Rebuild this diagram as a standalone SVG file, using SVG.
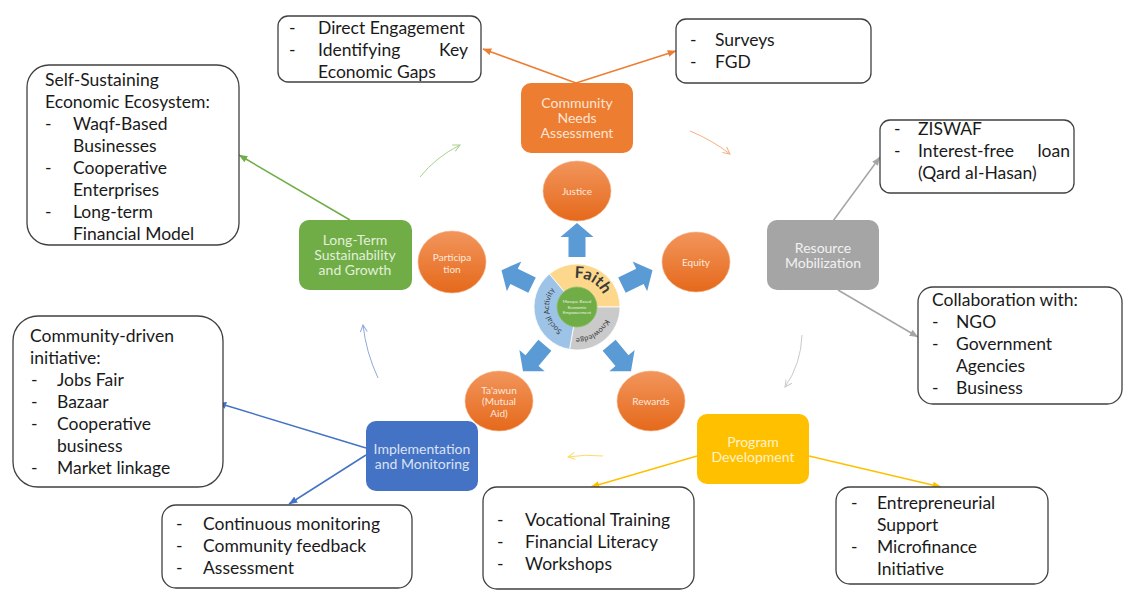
<svg xmlns="http://www.w3.org/2000/svg" width="1123" height="591" viewBox="0 0 1123 591">
  <defs>
    <style>
      .box { fill: #ffffff; stroke: #404040; stroke-width: 1.3; }
      .t { font-family: Lato, "Liberation Sans", sans-serif; font-size: 17.5px; fill: #1a1a1a; }
      .stage { font-family: Lato, "Liberation Sans", sans-serif; font-size: 14px; text-anchor: middle; }
      .orb { fill: url(#orbFill); stroke: #f6b48a; stroke-width: 0.6; }
      .orbt { font-family: Lato, "Liberation Sans", sans-serif; font-size: 10px; fill: #fde9dc; text-anchor: middle; }
      .spoke { fill: #5b9bd5; }
      .link { fill: none; stroke-width: 1.5; }
      .cycle { fill: none; stroke-width: 1; }
      .ring { font-family: Lato, "Liberation Sans", sans-serif; fill: #3a3a3a; }
    </style>
    <linearGradient id="orbFill" x1="0" y1="0" x2="0" y2="1">
      <stop offset="0" stop-color="#f2955c"/>
      <stop offset="1" stop-color="#e5691b"/>
    </linearGradient>
    <marker id="ahOrange" viewBox="0 0 10 8" refX="9.5" refY="4" markerWidth="9" markerHeight="7" markerUnits="userSpaceOnUse" orient="auto"><path d="M0,0 L10,4 L0,8 z" fill="#ed7d31"/></marker>
    <marker id="ahGray" viewBox="0 0 10 8" refX="9.5" refY="4" markerWidth="9" markerHeight="7" markerUnits="userSpaceOnUse" orient="auto"><path d="M0,0 L10,4 L0,8 z" fill="#a5a5a5"/></marker>
    <marker id="ahYellow" viewBox="0 0 10 8" refX="9.5" refY="4" markerWidth="9" markerHeight="7" markerUnits="userSpaceOnUse" orient="auto"><path d="M0,0 L10,4 L0,8 z" fill="#ffc000"/></marker>
    <marker id="ahBlue" viewBox="0 0 10 8" refX="9.5" refY="4" markerWidth="9" markerHeight="7" markerUnits="userSpaceOnUse" orient="auto"><path d="M0,0 L10,4 L0,8 z" fill="#4472c4"/></marker>
    <marker id="ahGreen" viewBox="0 0 10 8" refX="9.5" refY="4" markerWidth="9" markerHeight="7" markerUnits="userSpaceOnUse" orient="auto"><path d="M0,0 L10,4 L0,8 z" fill="#70ad47"/></marker>
    <marker id="ohGreen" viewBox="0 0 8 8" refX="7" refY="4" markerWidth="8" markerHeight="8" markerUnits="userSpaceOnUse" orient="auto"><path d="M0,0.5 L7,4 L0,7.5" fill="none" stroke="#a9d18e" stroke-width="1"/></marker>
    <marker id="ohOrange" viewBox="0 0 8 8" refX="7" refY="4" markerWidth="8" markerHeight="8" markerUnits="userSpaceOnUse" orient="auto"><path d="M0,0.5 L7,4 L0,7.5" fill="none" stroke="#f4b183" stroke-width="1"/></marker>
    <marker id="ohGray" viewBox="0 0 8 8" refX="7" refY="4" markerWidth="8" markerHeight="8" markerUnits="userSpaceOnUse" orient="auto"><path d="M0,0.5 L7,4 L0,7.5" fill="none" stroke="#c9c9c9" stroke-width="1"/></marker>
    <marker id="ohYellow" viewBox="0 0 8 8" refX="7" refY="4" markerWidth="8" markerHeight="8" markerUnits="userSpaceOnUse" orient="auto"><path d="M0,0.5 L7,4 L0,7.5" fill="none" stroke="#ffd966" stroke-width="1"/></marker>
    <marker id="ohBlue" viewBox="0 0 8 8" refX="7" refY="4" markerWidth="8" markerHeight="8" markerUnits="userSpaceOnUse" orient="auto"><path d="M0,0.5 L7,4 L0,7.5" fill="none" stroke="#8faadc" stroke-width="1"/></marker>
    <!-- baselines for the curved ring labels -->
    <path id="arcFaith" d="M569.5,279.0 A29,29 0 0 1 605.0,299.5"/>
    <path id="arcKnowledge" d="M606.9,315.0 A31,31 0 0 1 571.6,337.5"/>
    <path id="arcSocial" d="M567.4,333.3 A28,28 0 0 1 559.0,285.6"/>
    <polygon id="spokeShape" points="50,-8.5 70,-8.5 70,-16.5 84,0 70,16.5 70,8.5 50,8.5"/>
  </defs>

  <rect width="1123" height="591" fill="#ffffff"/>

  <!-- connectors -->
  <g id="connectors">
    <line class="link" x1="576" y1="83" x2="483" y2="49" stroke="#ed7d31" stroke-width="1" marker-end="url(#ahOrange)"/>
    <line class="link" x1="576" y1="83" x2="676" y2="51" stroke="#ed7d31" stroke-width="1" marker-end="url(#ahOrange)"/>
    <line class="link" x1="833" y1="221" x2="880" y2="157" stroke="#a5a5a5" marker-end="url(#ahGray)"/>
    <line class="link" x1="838" y1="290" x2="918" y2="337" stroke="#a5a5a5" marker-end="url(#ahGray)"/>
    <line class="link" x1="697" y1="456" x2="591" y2="487" stroke="#ffc000" marker-end="url(#ahYellow)"/>
    <line class="link" x1="809" y1="456" x2="941" y2="487" stroke="#ffc000" marker-end="url(#ahYellow)"/>
    <line class="link" x1="366" y1="448" x2="218" y2="403" stroke="#4472c4" marker-end="url(#ahBlue)"/>
    <line class="link" x1="366" y1="455" x2="289" y2="504" stroke="#4472c4" marker-end="url(#ahBlue)"/>
    <line class="link" x1="350" y1="220" x2="239" y2="155" stroke="#70ad47" marker-end="url(#ahGreen)"/>
    <!-- faint cycle arrows between stages -->
    <path class="cycle" d="M420,177 Q436,157 460,145" stroke="#a9d18e" marker-end="url(#ohGreen)"/>
    <path class="cycle" d="M690,131 Q712,140 730,154" stroke="#f4b183" marker-end="url(#ohOrange)"/>
    <path class="cycle" d="M802,335 Q801,364 785,387" stroke="#c9c9c9" marker-end="url(#ohGray)"/>
    <path class="cycle" d="M603,456 Q585,454 568,457" stroke="#ffd966" marker-end="url(#ohYellow)"/>
    <path class="cycle" d="M378,378 Q366,352 363,325" stroke="#8faadc" marker-end="url(#ohBlue)"/>
  </g>

  <!-- stage boxes -->
  <g id="needs">
    <rect x="521" y="83" width="112" height="70" rx="10" fill="#ed7d31"/>
    <text class="stage" fill="#fde4d3"><tspan x="577" y="107.5">Community</tspan><tspan x="577" y="122.5">Needs</tspan><tspan x="577" y="137.5">Assessment</tspan></text>
  </g>
  <g id="resources">
    <rect x="767" y="220" width="112" height="70" rx="10" fill="#a5a5a5"/>
    <text class="stage" fill="#f2f2f2"><tspan x="823" y="252.5">Resource</tspan><tspan x="823" y="267.5">Mobilization</tspan></text>
  </g>
  <g id="program">
    <rect x="697" y="414" width="112" height="70" rx="10" fill="#ffc000"/>
    <text class="stage" fill="#fff2cc"><tspan x="753" y="446.5">Program</tspan><tspan x="753" y="461.5">Development</tspan></text>
  </g>
  <g id="implementation">
    <rect x="366" y="421" width="112" height="70" rx="10" fill="#4472c4"/>
    <text class="stage" fill="#dae3f3"><tspan x="422" y="453.5">Implementation</tspan><tspan x="422" y="468.5">and Monitoring</tspan></text>
  </g>
  <g id="sustainability">
    <rect x="299" y="220" width="113" height="70" rx="10" fill="#70ad47"/>
    <text class="stage" fill="#e2f0d9"><tspan x="355" y="244.5">Long-Term</tspan><tspan x="355" y="259.5">Sustainability</tspan><tspan x="355" y="274.5">and Growth</tspan></text>
  </g>

  <!-- detail boxes -->
  <g id="engagement">
    <rect class="box" x="278" y="16" width="203" height="66" rx="10"/>
    <text class="t"><tspan x="289" y="34">-</tspan><tspan x="318" y="34">Direct Engagement</tspan><tspan x="289" y="56">-</tspan><tspan x="318" y="56">Identifying</tspan><tspan x="318" y="78">Economic Gaps</tspan></text>
    <text class="t" x="468" y="56" text-anchor="end">Key</text>
  </g>
  <g id="surveys">
    <rect class="box" x="676" y="19" width="195" height="64" rx="10"/>
    <text class="t"><tspan x="690" y="46">-</tspan><tspan x="715" y="46">Surveys</tspan><tspan x="690" y="68">-</tspan><tspan x="715" y="68">FGD</tspan></text>
  </g>
  <g id="funding">
    <rect class="box" x="880" y="120" width="194" height="73" rx="10"/>
    <text class="t"><tspan x="894" y="135">-</tspan><tspan x="918" y="135">ZISWAF</tspan><tspan x="894" y="157">-</tspan><tspan x="918" y="157">Interest-free</tspan><tspan x="918" y="179">(Qard al-Hasan)</tspan></text>
    <text class="t" x="1070" y="157" text-anchor="end">loan</text>
  </g>
  <g id="collaboration">
    <rect class="box" x="918" y="287" width="204" height="117" rx="15"/>
    <text class="t"><tspan x="932" y="306">Collaboration with:</tspan><tspan x="932" y="328">-</tspan><tspan x="956" y="328">NGO</tspan><tspan x="932" y="350">-</tspan><tspan x="956" y="350">Government</tspan><tspan x="956" y="372">Agencies</tspan><tspan x="932" y="394">-</tspan><tspan x="956" y="394">Business</tspan></text>
  </g>
  <g id="ecosystem">
    <rect class="box" x="27" y="65" width="212" height="180" rx="22"/>
    <text class="t"><tspan x="45" y="85.5">Self-Sustaining</tspan><tspan x="45" y="107.5">Economic Ecosystem:</tspan><tspan x="45" y="129.5">-</tspan><tspan x="73" y="129.5">Waqf-Based</tspan><tspan x="73" y="151.5">Businesses</tspan><tspan x="45" y="173.5">-</tspan><tspan x="73" y="173.5">Cooperative</tspan><tspan x="73" y="195.5">Enterprises</tspan><tspan x="45" y="217.5">-</tspan><tspan x="73" y="217.5">Long-term</tspan><tspan x="73" y="239.5">Financial Model</tspan></text>
  </g>
  <g id="initiatives">
    <rect class="box" x="13" y="316" width="210" height="171" rx="25"/>
    <text class="t"><tspan x="30" y="341.5">Community-driven</tspan><tspan x="30" y="363.5">initiative:</tspan><tspan x="31" y="385.5">-</tspan><tspan x="57" y="385.5">Jobs Fair</tspan><tspan x="31" y="407.5">-</tspan><tspan x="57" y="407.5">Bazaar</tspan><tspan x="31" y="429.5">-</tspan><tspan x="57" y="429.5">Cooperative</tspan><tspan x="57" y="451.5">business</tspan><tspan x="31" y="473.5">-</tspan><tspan x="57" y="473.5">Market linkage</tspan></text>
  </g>
  <g id="monitoring">
    <rect class="box" x="162" y="505" width="250" height="83" rx="14"/>
    <text class="t"><tspan x="176" y="530">-</tspan><tspan x="203" y="530">Continuous monitoring</tspan><tspan x="176" y="552">-</tspan><tspan x="203" y="552">Community feedback</tspan><tspan x="176" y="574">-</tspan><tspan x="203" y="574">Assessment</tspan></text>
  </g>
  <g id="training">
    <rect class="box" x="483" y="487" width="211" height="102" rx="14"/>
    <text class="t"><tspan x="497" y="526">-</tspan><tspan x="525" y="526">Vocational Training</tspan><tspan x="497" y="548">-</tspan><tspan x="525" y="548">Financial Literacy</tspan><tspan x="497" y="570">-</tspan><tspan x="525" y="570">Workshops</tspan></text>
  </g>
  <g id="enterprise">
    <rect class="box" x="836" y="487" width="212" height="97" rx="14"/>
    <text class="t"><tspan x="851" y="508.5">-</tspan><tspan x="877" y="508.5">Entrepreneurial</tspan><tspan x="877" y="530.5">Support</tspan><tspan x="851" y="552.5">-</tspan><tspan x="877" y="552.5">Microfinance</tspan><tspan x="877" y="574.5">Initiative</tspan></text>
  </g>

  <!-- value orbs -->
  <g id="justice">
    <ellipse class="orb" cx="577" cy="191" rx="34" ry="30"/>
    <text class="orbt" x="577" y="194.5">Justice</text>
  </g>
  <g id="equity">
    <ellipse class="orb" cx="696" cy="262" rx="34" ry="30"/>
    <text class="orbt" x="696" y="266">Equity</text>
  </g>
  <g id="participation">
    <ellipse class="orb" cx="452" cy="262" rx="34" ry="31"/>
    <text class="orbt"><tspan x="452" y="260.5">Participa</tspan><tspan x="452" y="272.5">tion</tspan></text>
  </g>
  <g id="taawun">
    <ellipse class="orb" cx="499" cy="401" rx="34" ry="30"/>
    <text class="orbt"><tspan x="499" y="393.5">Ta'awun</tspan><tspan x="499" y="405">(Mutual</tspan><tspan x="499" y="416.5">Aid)</tspan></text>
  </g>
  <g id="rewards">
    <ellipse class="orb" cx="651" cy="401" rx="34" ry="30"/>
    <text class="orbt" x="651" y="404.5">Rewards</text>
  </g>

  <!-- block arrows radiating from the hub -->
  <g id="spokes">
    <use href="#spokeShape" class="spoke" transform="translate(577,307) rotate(-90)"/>
    <use href="#spokeShape" class="spoke" transform="translate(577,307) rotate(-26)"/>
    <use href="#spokeShape" class="spoke" transform="translate(577,307) rotate(206)"/>
    <use href="#spokeShape" class="spoke" transform="translate(577,307) rotate(130)"/>
    <use href="#spokeShape" class="spoke" transform="translate(577,307) rotate(50)"/>
  </g>

  <!-- hub wheel -->
  <g id="hub">
    <path d="M577,307 L549.36,274.06 A43,43 0 0 1 620,307 Z" fill="#fdd88c" stroke="#ffffff" stroke-width="0.8"/>
    <path d="M577,307 L620,307 A43,43 0 0 1 569.53,349.35 Z" fill="#cacaca" stroke="#ffffff" stroke-width="0.8"/>
    <path d="M577,307 L569.53,349.35 A43,43 0 0 1 549.36,274.06 Z" fill="#9dc3e6" stroke="#ffffff" stroke-width="0.8"/>
    <text class="ring" font-size="16" font-weight="bold" fill="#262626"><textPath href="#arcFaith" startOffset="50%" text-anchor="middle">Faith</textPath></text>
    <text class="ring" font-size="7.5"><textPath href="#arcKnowledge" startOffset="50%" text-anchor="middle">Knowledge</textPath></text>
    <text class="ring" font-size="7.5"><textPath href="#arcSocial" startOffset="50%" text-anchor="middle">Social Activity</textPath></text>
    <circle cx="577" cy="307" r="20" fill="#70ad47" stroke="#8cc168" stroke-width="0.8"/>
    <text font-family="Lato, 'Liberation Sans', sans-serif" font-size="4.4" fill="#e8f3e0" text-anchor="middle"><tspan x="577" y="303">Mosque Based</tspan><tspan x="577" y="308.5">Economic</tspan><tspan x="577" y="314">Empowerment</tspan></text>
  </g>
</svg>
